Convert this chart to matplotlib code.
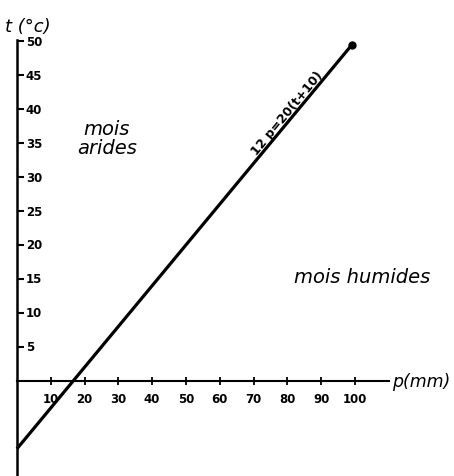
import matplotlib.pyplot as plt

# Datos
p_ticks = [10, 20, 30, 40, 50, 60, 70, 80, 90, 100]
t_ticks = [5, 10, 15, 20, 25, 30, 35, 40, 45, 50]
p_recta = [0, 99]  # precipitacion (mm)
t_recta = [-10, 49.4]  # temperatura (C), 12p = 20(t+10)

fig = plt.figure(figsize=(4.54, 4.77), dpi=100)
ax = fig.add_axes([0, 0, 1, 1])
ax.set_xlim(-5.0, 129.3)
ax.set_ylim(-14.0, 56.2)

# ejes dibujados en el origen
for lado in ['top', 'right']:
    ax.spines[lado].set_visible(False)
ax.spines['left'].set_position(('data', 0))
ax.spines['bottom'].set_position(('data', 0))
ax.spines['left'].set_bounds(-14, 50.2)
ax.spines['bottom'].set_bounds(0, 110)
ax.spines['left'].set_linewidth(1.8)
ax.spines['bottom'].set_linewidth(1.5)

ax.set_xticks(p_ticks)
ax.set_yticks(t_ticks)
ax.tick_params(axis='x', direction='inout', length=6, width=1.3, labelbottom=False)
ax.tick_params(axis='y', direction='in', length=5, width=1.5, labelleft=False)

for p in p_ticks:
    ax.text(p, -1.6, str(p), ha='center', va='top', fontsize=8.5, fontweight='bold')
for t in t_ticks:
    ax.text(2.6, t, str(t), ha='left', va='center', fontsize=8.5, fontweight='bold')

# recta de separacion
ax.plot(p_recta, t_recta, color='black', lw=2.3, solid_capstyle='butt')
ax.plot(p_recta[1], t_recta[1], 'o', color='black', markersize=5)
ax.text(80, 39.5, '12 p=20(t+10)', rotation=50.4, ha='center', va='center',
        fontsize=9, fontweight='bold', rotation_mode='anchor')

# textos
ax.text(-3.5, 50.9, 't (°c)', ha='left', va='bottom', fontsize=13, style='italic')
ax.text(111, 0, 'p(mm)', ha='left', va='center', fontsize=12.5, style='italic')
ax.text(26.6, 35.8, 'mois\narides', ha='center', va='center', fontsize=14,
        style='italic', linespacing=1.0)
ax.text(102, 15.3, 'mois humides', ha='center', va='center', fontsize=14, style='italic')

fig.savefig('out.png', dpi=100)
